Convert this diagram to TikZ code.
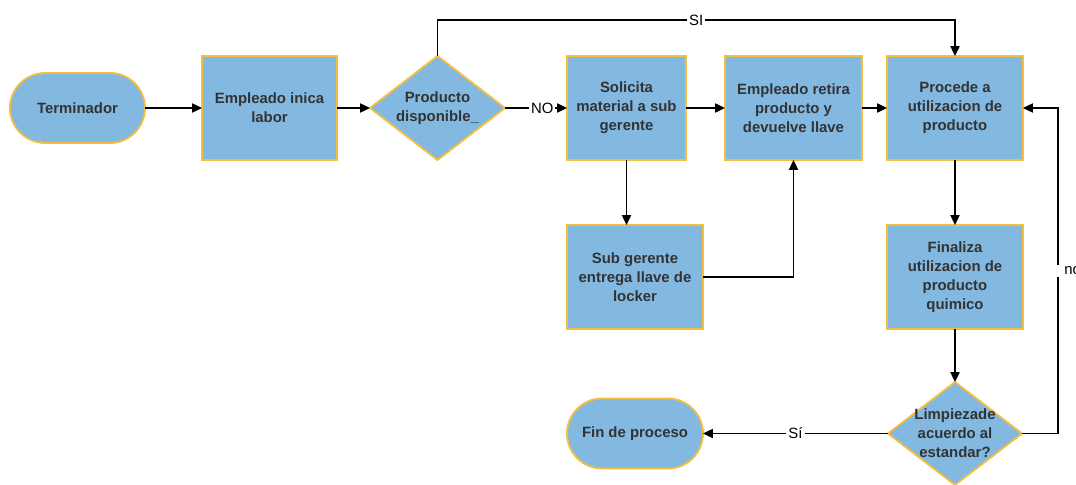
\documentclass[tikz,border=0pt]{standalone}
\usepackage{fontspec}
\setmainfont{Liberation Sans}
\usepackage{tikz}
\usetikzlibrary{arrows.meta,positioning,shapes.geometric}

\definecolor{boxblue}{HTML}{83B8E1}
\definecolor{boxedge}{HTML}{F4BF3F}
\definecolor{boxtext}{HTML}{333333}

\begin{document}
\begin{tikzpicture}[
          > = {Triangle[length=7pt,width=6.5pt]}, % arrow head style
          line width = 1pt, % line style
          node distance = 1.6cm % distance between nodes
          ]

          \tikzset{
          block/.style = {
          draw = boxedge,
          line width = 1.3pt,
          fill = boxblue,
          text = boxtext,
          font = \fontsize{10.6}{13.5}\selectfont\bfseries,
          align = center,
          minimum width = 3.4cm,
          minimum height = 2.6cm,
          inner sep = 2pt,
          outer sep = 0pt
          },
          terminal/.style = {block, minimum height = 1.75cm, rounded corners = 0.875cm},
          decision/.style = {block, diamond, minimum width = 3.375cm, minimum height = 2.6cm, inner sep = 0pt},
          dtext/.style = {text = boxtext, font = \fontsize{10.6}{13.5}\selectfont\bfseries, align = center},
          answer/.style = {fill = white, inner sep = 1.5pt, font = \fontsize{10.6}{13}\selectfont}
          }

          \useasboundingbox (0,0) rectangle (26.9,-12.125);

          \node[terminal, minimum width = 3.375cm] (term) at (1.9375,-2.7) {Terminador};
          \node[block, minimum width = 3.375cm] (labor) [right=1.425cm of term] {Empleado inica\\labor};
          \node[decision, label={[dtext]center:Producto\\disponible\_}] (disp) [right=0.825cm of labor] {};
          \node[block, minimum width = 2.975cm] (sol) [right=1.55cm of disp] {Solicita\\material a sub\\gerente};
          \node[block, minimum width = 3.425cm] (ret) [right=0.975cm of sol] {Empleado retira\\producto y\\devuelve llave};
          \node[block] (proc) [right=0.625cm of ret] {Procede a\\utilizacion de\\producto};
          \node[block] (sub) [below=1.625cm of sol.south west, anchor=north west] {Sub gerente\\entrega llave de\\locker};
          \node[block] (fini) [below=1.625cm of proc] {Finaliza\\utilizacion de\\producto\\quimico};
          \node[decision, minimum width = 3.35cm, minimum height = 2.575cm,
                label={[dtext]center:Limpiezade\\acuerdo al\\estandar?}] (limp) [below=1.325cm of fini] {};
          \node[terminal] (fin) [left=4.625cm of limp] {Fin de proceso};

          \draw[->] (term) -- (labor);
          \draw[->] (labor) -- (disp);
          \draw[->] (disp) -- node[answer, pos=0.6] {NO} (sol);
          \draw[->] (sol) -- (ret);
          \draw[->] (ret) -- (proc);
          \draw[->] (disp.north) -- ++(0,0.9) -| node[answer, pos=0.25] {SI} (proc.north);
          \draw[->] (sol.south) -- (sol.south |- sub.north);
          \draw[->] (sub.east) -| (ret.south);
          \draw[->] (proc) -- (fini);
          \draw[->] (fini) -- (limp);
          \draw[->] (limp) -- node[answer] {Sí} (fin);
          \draw[->] (limp.east) -- ++(0.9,0) |- node[answer, pos=0.25, anchor=west, inner xsep=5pt, xshift=-1pt] {no} (proc.east);

        \end{tikzpicture}
\end{document}
